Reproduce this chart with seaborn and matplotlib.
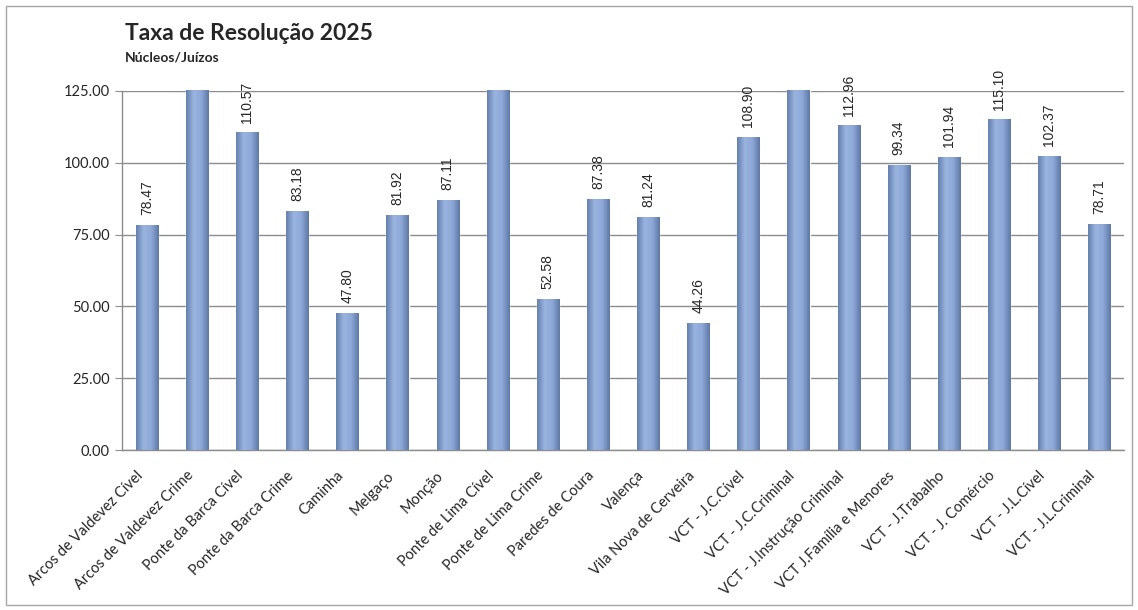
import numpy as np
import pandas as pd
import matplotlib.pyplot as plt
import seaborn as sns
from matplotlib.colors import LinearSegmentedColormap
from matplotlib.patches import Rectangle
from matplotlib.transforms import ScaledTranslation

categories = ["Arcos de Valdevez Cível", "Arcos de Valdevez Crime", "Ponte da Barca Cível",
              "Ponte da Barca Crime", "Caminha", "Melgaço", "Monção", "Ponte de Lima Cível",
              "Ponte de Lima Crime", "Paredes de Coura", "Valença", "Vila Nova de Cerveira",
              "VCT - J.C.Cível", "VCT - J.C.Criminal", "VCT - J.Instrução Criminal",
              "VCT J.Família e Menores", "VCT - J.Trabalho", "VCT - J. Comércio",
              "VCT - J.L.Cível", "VCT - J.L.Criminal"]
# bars above 125 are clipped in the original, their exact values are not visible
values = [78.47, 134.0, 110.57, 83.18, 47.80, 81.92, 87.11, 138.0, 52.58, 87.38,
          81.24, 44.26, 108.90, 131.0, 112.96, 99.34, 101.94, 115.10, 102.37, 78.71]
yticks = [0, 25, 50, 75, 100, 125]

df = pd.DataFrame({"Núcleo": categories, "Taxa": values})

sns.set_style("white")
plt.rcParams['font.family'] = ['Lato', 'DejaVu Sans']

fig = plt.figure(figsize=(11.38, 6.10), dpi=100)
ax = fig.add_axes([0.107, 0.262, 0.881, 0.589])

sns.barplot(data=df, x="Núcleo", y="Taxa", color="#7F99C8", width=0.44, ax=ax,
            saturation=1, zorder=3)

# cylindrical look: horizontal gradient clipped to each bar
cmap = LinearSegmentedColormap.from_list("cyl", ["#6580AE", "#9AB4E0", "#8DA8D7", "#5F78A6"])
grad = np.linspace(0, 1, 64).reshape(1, -1)
for p in ax.patches:
    x0, w, h = p.get_x(), p.get_width(), p.get_height()
    im = ax.imshow(grad, cmap=cmap, aspect="auto", extent=[x0, x0 + w, 0, min(h, 125)],
                   zorder=4, interpolation="bicubic")
    im.set_clip_path(p)

ax.set_ylim(0, 125)
ax.set_xlim(-0.5, len(categories) - 0.5)
ax.set_yticks(yticks)
ax.set_yticklabels([f"{t:.2f}" for t in yticks], fontsize=10.5)
ax.yaxis.grid(True, color="#8C8C8C", linewidth=1, zorder=0)
ax.set_axisbelow(True)

for i, v in enumerate(values):
    if v <= 125:
        ax.annotate(f"{v:.2f}", (i, v), xytext=(0, 7), textcoords="offset points",
                    rotation=90, ha="center", va="bottom", fontsize=10,
                    family=["Liberation Sans"], zorder=5)

# ticks between categories
ax.set_xticks(np.arange(len(categories)))
ax.set_xticklabels(categories, rotation=45, ha="right", rotation_mode="anchor", fontsize=10.5)
ax.tick_params(axis="x", length=0, pad=6)
shift = ScaledTranslation(-11 / 100, -10 / 100, fig.dpi_scale_trans)
for lbl in ax.get_xticklabels():
    lbl.set_transform(lbl.get_transform() + shift)
ax.set_xticks(np.arange(-0.5, len(categories)), minor=True)
ax.tick_params(axis="x", which="minor", length=5, color="#8C8C8C", direction="out")
ax.tick_params(axis="y", length=5, color="#8C8C8C", direction="out", left=True)
ax.set_xlabel("")
ax.set_ylabel("")

for s in ["top", "right"]:
    ax.spines[s].set_visible(False)
for s in ["left", "bottom"]:
    ax.spines[s].set_color("#8C8C8C")
    ax.spines[s].set_linewidth(1)

fig.text(0.110, 0.945, "Taxa de Resolução 2025", fontsize=16.5, fontweight="bold", va="center")
fig.text(0.110, 0.905, "Núcleos/Juízos", fontsize=10, fontweight="bold", va="center")

fig.patches.append(Rectangle((0.005, 0.008), 0.99, 0.982, transform=fig.transFigure,
                             fill=False, edgecolor="#A6A6A6", linewidth=1))

fig.savefig("out.png", dpi=100)
